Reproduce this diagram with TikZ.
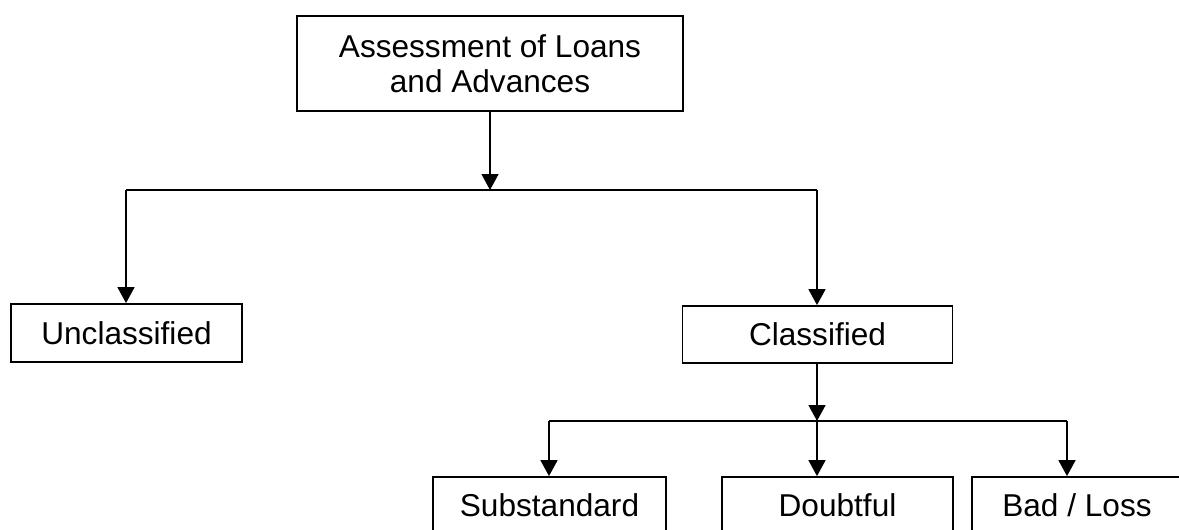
\documentclass[tikz,border=0pt]{standalone}
\usepackage{fontspec}
\setmainfont{Liberation Sans}
\usetikzlibrary{arrows.meta}
\begin{document}
\begin{tikzpicture}[x=0.5pt,y=-0.5pt,
  box/.style={draw, line width=0.9pt, rectangle, inner sep=0pt, font=\fontsize{15.8}{17.5}\selectfont, align=center},
  conn/.style={line width=0.8pt, line join=miter},
  arr/.style={conn, -{Triangle[length=8pt,width=8.5pt]}}]
\useasboundingbox (0,0) rectangle (1179,530);
\node[box, minimum width=193pt, minimum height=47.5pt] (top) at (490,63.5) {Assessment of Loans\\and Advances};
\node[box, minimum width=115.5pt, minimum height=29pt] (uncl) at (126.5,333) {Unclassified};
\node[box, minimum width=135pt, minimum height=28.5pt] (cls) at (817.5,334.5) {Classified};
\node[box, minimum width=116.5pt, minimum height=28.5pt] (sub) at (549.5,505.5) {Substandard};
\node[box, minimum width=115.5pt, minimum height=28.5pt] (doubt) at (837.5,505.5) {Doubtful};
\node[box, minimum width=105pt, minimum height=28.5pt] (bad) at (1077,505.5) {Bad / Loss};
\coordinate (h1) at (490,190);
\coordinate (h1l) at (126,190);
\coordinate (h1r) at (817,190);
\coordinate (h2) at (817,421);
\coordinate (h2l) at (549,421);
\coordinate (h2r) at (1067,421);
\draw[arr] (top) -- (h1);
\draw[conn] (h1l) -- (h1r);
\draw[arr] (h1l) -- (h1l |- uncl.north);
\draw[arr] (h1r) -- (h1r |- cls.north);
\draw[arr] (cls.south -| h2) -- (h2);
\draw[conn] (h2l) -- (h2r);
\draw[arr] (h2l) -- (h2l |- sub.north);
\draw[arr] (h2) -- (h2 |- doubt.north);
\draw[arr] (h2r) -- (h2r |- bad.north);
\end{tikzpicture}
\end{document}
